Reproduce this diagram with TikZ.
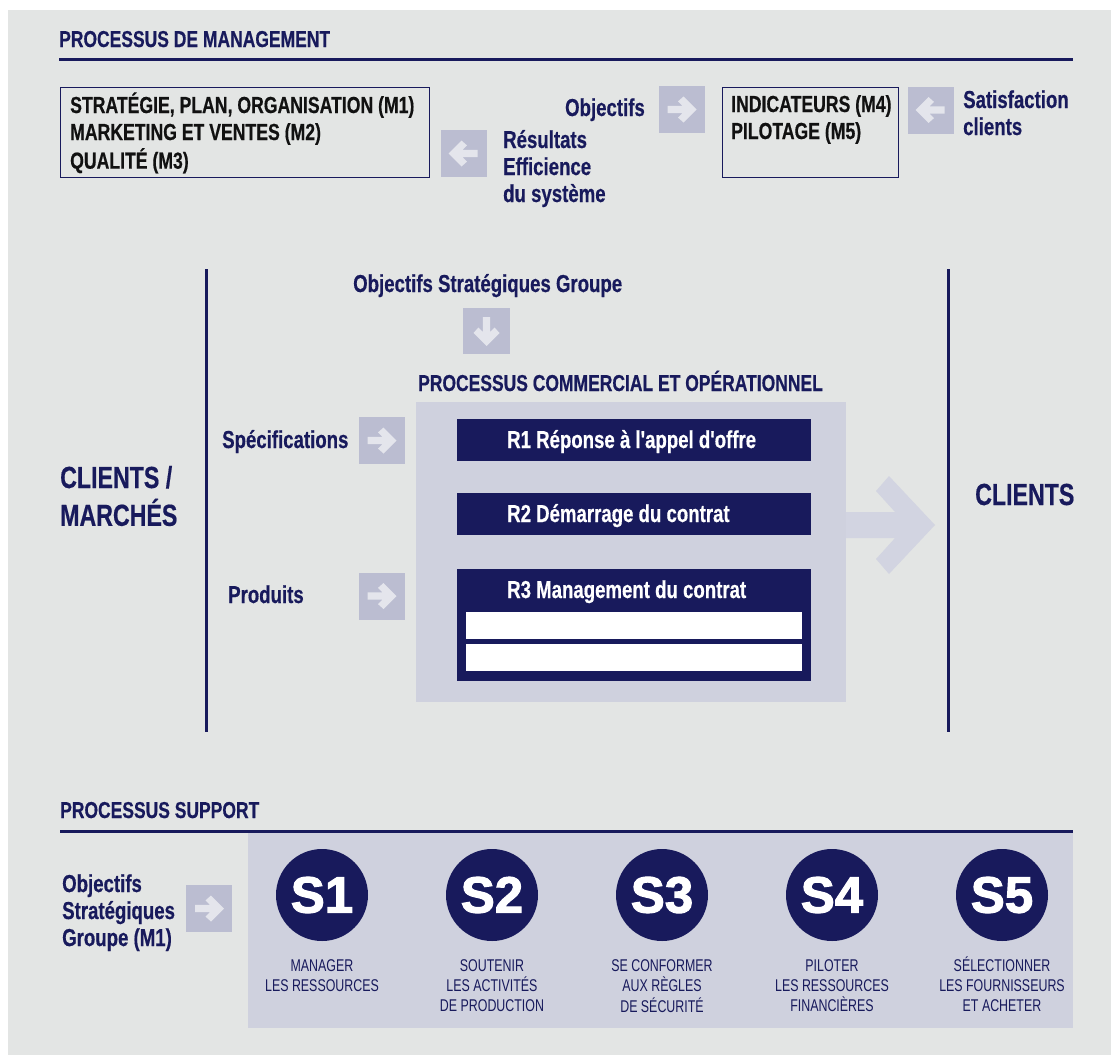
\documentclass[tikz,border=0pt]{standalone}
\usepackage{fontspec}
\setmainfont{Liberation Sans}
\newfontfamily\cnd{Liberation Sans}[FakeStretch=0.76, BoldFeatures={FakeBold=0.5}]
\newfontfamily\cndn{Liberation Sans}[FakeStretch=0.73]
\newfontfamily\heavy{Liberation Sans}[BoldFeatures={FakeBold=2.2}]
\definecolor{bgc}{HTML}{E3E5E4}
\definecolor{navy}{HTML}{181A5C}
\definecolor{panelc}{HTML}{CFD1DE}
\definecolor{boxc}{HTML}{BBBDD1}
\definecolor{glyphc}{HTML}{E4E5EC}
\definecolor{bigarr}{HTML}{D2D4E1}
\definecolor{ink}{HTML}{111111}
\newcommand\mlines[1]{\begin{tabular}[t]{@{}l@{}}#1\end{tabular}}
\newcommand\mclines[1]{\begin{tabular}[t]{@{}c@{}}#1\end{tabular}}
\tikzset{
  lab/.style={font=\cnd\bfseries\fontsize{24.5}{27}\selectfont, text=navy, inner sep=0pt, anchor=base west},
  hdr/.style={font=\cnd\bfseries\fontsize{23}{27}\selectfont, text=navy, inner sep=0pt, anchor=base west},
  boxtxt/.style={font=\cnd\bfseries\fontsize{23.2}{27}\selectfont, text=ink, inner sep=0pt, anchor=base west},
  bigtxt/.style={font=\cnd\bfseries\fontsize{30.5}{36}\selectfont, text=navy, inner sep=0pt, anchor=base west},
  rtxt/.style={font=\cnd\bfseries\fontsize{24.5}{27}\selectfont, text=white, inner sep=0pt, anchor=base west},
  rbox/.style={fill=navy, draw=none, inner sep=0pt, anchor=north west},
  wbar/.style={fill=white, draw=none, inner sep=0pt, anchor=north west, minimum width=336pt, minimum height=27pt},
  mbox/.style={draw=navy, line width=1.2pt, inner sep=0pt, anchor=north west},
  scirc/.style={circle, fill=navy, minimum size=92pt, inner sep=0pt, text=white, font=\heavy\bfseries\fontsize{51}{51}\selectfont},
  slab/.style={font=\cndn\fontsize{17}{20}\selectfont, text=navy, inner sep=0pt, anchor=base},
  rulec/.style={navy, line width=3pt},
  arrowicon/.pic={
    \fill[boxc] (-23,-23.5) rectangle (23,23.5);
    \fill[glyphc] (-14,-3.6) -- (1,-3.6) -- (-3.5,-8.1) -- (2,-13) -- (15,0) -- (2,13) -- (-3.5,8.1) -- (1,3.6) -- (-14,3.6) -- cycle;
  }
}
\begin{document}
\begin{tikzpicture}[x=1pt,y=-1pt]
\useasboundingbox (0,0) rectangle (1111,1055);
\fill[white] (0,0) rectangle (1111,1055);
\fill[bgc] (8,10) rectangle (1111,1055);

% ---------- Management ----------
\node[hdr] (hmgmt) at (59,47) {PROCESSUS DE MANAGEMENT};
\draw[rulec] (59,59) -- (1073,59);
\node[mbox, minimum width=369pt, minimum height=90pt] (m1box) at (59.5,87) {};
\node[boxtxt] (m1txt) at (70,113) {\mlines{STRATÉGIE, PLAN, ORGANISATION (M1)\\MARKETING ET VENTES (M2)\\QUALITÉ (M3)}};
\pic[rotate=180] at (463.5,153.5) {arrowicon};
\node[lab] (res) at (503,148) {\mlines{Résultats\\Efficience\\du système}};
\node[lab, anchor=base east] (obj) at (645,116) {Objectifs};
\pic at (681.5,109.5) {arrowicon};
\node[mbox, minimum width=176pt, minimum height=90pt] (m4box) at (722,87) {};
\node[boxtxt] (m4txt) at (731,112) {\mlines{INDICATEURS (M4)\\PILOTAGE (M5)}};
\pic[rotate=180] at (930.5,110) {arrowicon};
\node[lab] (sat) at (963,108) {\mlines{Satisfaction\\clients}};

% ---------- Commercial ----------
\draw[rulec] (206,269) -- (206,732);
\draw[rulec] (948,269) -- (948,732);
\node[bigtxt] (cm) at (60,488) {\mlines{CLIENTS /\\MARCHÉS}};
\node[bigtxt] (cl) at (975,505) {CLIENTS};
\node[lab] (osg) at (353,292) {Objectifs Stratégiques Groupe};
\pic[rotate=-90] at (486.5,331) {arrowicon};
\node[hdr] (hcom) at (418,391) {PROCESSUS COMMERCIAL ET OPÉRATIONNEL};
\node[fill=panelc, inner sep=0pt, anchor=north west, minimum width=430pt, minimum height=300pt] (panel) at (416,402) {};
\fill[bigarr] (846,512) -- (895,512) -- (876,491) -- (889,476) -- (935,525) -- (889,574) -- (876,559) -- (895,538) -- (846,538) -- cycle;
\node[rbox, minimum width=354pt, minimum height=42pt] (r1) at (457,419) {};
\node[rtxt] (r1t) at (507,448) {R1 Réponse à l'appel d'offre};
\node[rbox, minimum width=354pt, minimum height=42pt] (r2) at (457,493) {};
\node[rtxt] (r2t) at (507,522) {R2 Démarrage du contrat};
\node[rbox, minimum width=354pt, minimum height=112pt] (r3) at (457,569) {};
\node[rtxt] (r3t) at (507,598) {R3 Management du contrat};
\node[wbar] (r3a) at (466,612) {};
\node[wbar] (r3b) at (466,644) {};
\node[lab] (spec) at (222,448) {Spécifications};
\pic at (381.5,440.5) {arrowicon};
\node[lab] (prod) at (228,603) {Produits};
\pic at (381.5,596) {arrowicon};

% ---------- Support ----------
\node[hdr] (hsup) at (60,818) {PROCESSUS SUPPORT};
\node[fill=panelc, inner sep=0pt, anchor=north west, minimum width=825pt, minimum height=196pt] (spanel) at (248,832) {};
\draw[rulec] (60,831) -- (1073,831);
\node[lab] (osgb) at (62,892) {\mlines{Objectifs\\Stratégiques\\Groupe (M1)}};
\pic at (209,908.5) {arrowicon};
\node[scirc] (s1) at (322,895) {S1};
\node[scirc] (s2) at (492,895) {S2};
\node[scirc] (s3) at (662,895) {S3};
\node[scirc] (s4) at (832,895) {S4};
\node[scirc] (s5) at (1002,895) {S5};
\node[slab] (s1t) at (322,971) {\mclines{MANAGER\\LES RESSOURCES}};
\node[slab] (s2t) at (492,971) {\mclines{SOUTENIR\\LES ACTIVITÉS\\DE PRODUCTION}};
\node[slab] (s3t) at (662,971) {\mclines{SE CONFORMER\\AUX RÈGLES\\DE SÉCURITÉ}};
\node[slab] (s4t) at (832,971) {\mclines{PILOTER\\LES RESSOURCES\\FINANCIÈRES}};
\node[slab] (s5t) at (1002,971) {\mclines{SÉLECTIONNER\\LES FOURNISSEURS\\ET ACHETER}};
\end{tikzpicture}
\end{document}
